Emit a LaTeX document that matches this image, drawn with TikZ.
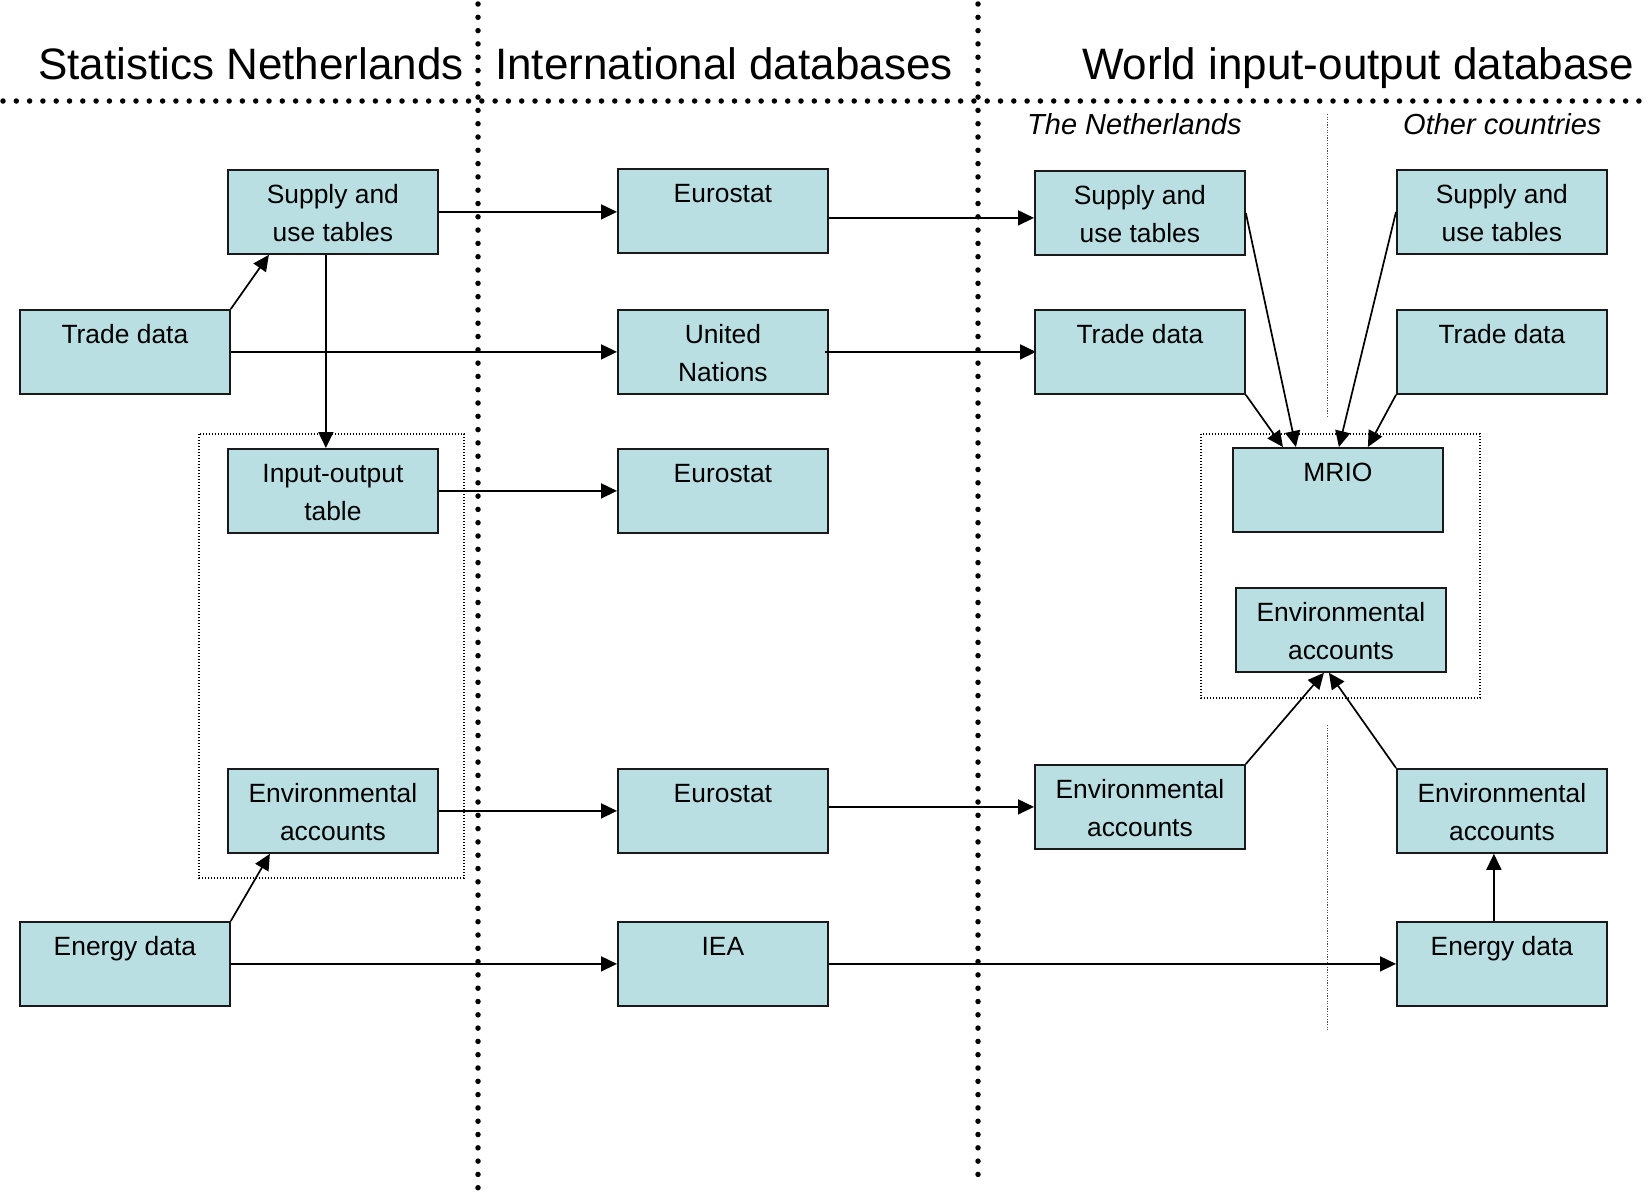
\documentclass[tikz,border=0pt]{standalone}
\usepackage{fontspec}
\setmainfont{Liberation Sans}
\usetikzlibrary{arrows.meta,calc}
\definecolor{boxfill}{RGB}{185,223,227}
\newcommand\bt[1]{\parbox[c][84pt][t]{210pt}{\centering\fontsize{26.4}{38}\selectfont\rule{0pt}{34pt}#1\par}}
\tikzset{
  bx/.style={draw=black!90, line width=1.8pt, fill=boxfill, inner sep=0pt, minimum width=210pt, minimum height=84pt, anchor=north west},
  conn/.style={line width=1.7pt, -{Triangle[length=16pt,width=15pt]}},
  bigdots/.style={line width=5.5pt, line cap=round, dash pattern=on 0pt off 13.3pt},
  grp/.style={line width=1.3pt, dash pattern=on 1.4pt off 1.6pt},
  sep/.style={line width=0.9pt, black!70, dash pattern=on 1.2pt off 1.4pt},
  head/.style={anchor=base west, inner sep=0pt, font=\fontsize{44}{50}\selectfont},
  subhead/.style={anchor=base west, inner sep=0pt, font=\fontsize{29}{34}\selectfont\itshape}
}
\begin{document}
\begin{tikzpicture}[x=1pt,y=-1pt]
\useasboundingbox (0,0) rectangle (1649,1203);

% separators
\draw[bigdots] (478,4) -- (478,1199);
\draw[bigdots] (978,4) -- (978,1186);
\draw[bigdots] (3,101) -- (1649,101);
\draw[sep] (1327,114) -- (1327,418);
\draw[sep] (1327,725) -- (1327,1031);

% headers
\node[head] (h1) at (38,79) {Statistics Netherlands};
\node[head] (h2) at (495,79) {International databases};
\node[head] (h3) at (1082,79) {World input-output database};
\node[subhead] (s1) at (1027,134) {The Netherlands};
\node[subhead] (s2) at (1403,134) {Other countries};

% group frames
\draw[grp] (199,434) rectangle (464,878);
\draw[grp] (1201,434) rectangle (1480,698);

% Statistics Netherlands
\node[bx] (snsut) at (227,169) {\bt{Supply and\\use tables}};
\node[bx] (sntrade) at (19,309) {\bt{Trade data}};
\node[bx] (snio) at (227,448) {\bt{Input-output\\table}};
\node[bx] (snenv) at (227,768) {\bt{Environmental\\accounts}};
\node[bx] (snenergy) at (19,921) {\bt{Energy data}};

% International databases
\node[bx] (eu1) at (617,168) {\bt{Eurostat}};
\node[bx] (un) at (617,309) {\bt{United\\Nations}};
\node[bx] (eu2) at (617,448) {\bt{Eurostat}};
\node[bx] (eu3) at (617,768) {\bt{Eurostat}};
\node[bx] (iea) at (617,921) {\bt{IEA}};

% WIOD - Netherlands
\node[bx] (nlsut) at (1034,170) {\bt{Supply and\\use tables}};
\node[bx] (nltrade) at (1034,309) {\bt{Trade data}};
\node[bx] (nlenv) at (1034,764) {\bt{Environmental\\accounts}};

% WIOD - combined
\node[bx] (mrio) at (1232,447) {\bt{MRIO}};
\node[bx] (wenv) at (1235,587) {\bt{Environmental\\accounts}};

% WIOD - other countries
\node[bx] (ocsut) at (1396,169) {\bt{Supply and\\use tables}};
\node[bx] (octrade) at (1396,309) {\bt{Trade data}};
\node[bx] (ocenv) at (1396,768) {\bt{Environmental\\accounts}};
\node[bx] (ocenergy) at (1396,921) {\bt{Energy data}};

% connectors
\draw[conn] (snsut.east) -- (snsut.east -| eu1.west);
\draw[conn] (sntrade.north east) -- ($(snsut.south)+(-64,0)$);
\draw[conn] (sntrade.east) -- (sntrade.east -| un.west);
\draw[conn] ($(snsut.south)+(-7,0)$) -- ($(snio.north)+(-7,0)$);
\draw[conn] (snio.east) -- (snio.east -| eu2.west);
\draw[conn] (snenv.east) -- (snenv.east -| eu3.west);
\draw[conn] (snenergy.north east) -- ($(snenv.south)+(-63,0)$);
\draw[conn] (snenergy.east) -- (snenergy.east -| iea.west);

\coordinate (c1) at ($(nlsut.west)+(0,5)$);
\draw[conn] (c1 -| eu1.east) -- (c1);
\draw[conn] ($(un.east)+(-4,0)$) -- ($(nltrade.west)+(2,0)$);
\draw[conn] (nlenv.west -| eu3.east) -- (nlenv.west);
\draw[conn] (iea.east) -- (iea.east -| ocenergy.west);

\draw[conn] (nlsut.east) -- ($(mrio.north)+(-42,0)$);
\draw[conn] (nltrade.south east) -- ($(mrio.north)+(-55,0)$);
\draw[conn] (ocsut.west) -- ($(mrio.north)+(1,0)$);
\draw[conn] (octrade.south west) -- ($(mrio.north)+(30,0)$);

\draw[conn] (nlenv.north east) -- ($(wenv.south)+(-17,0)$);
\draw[conn] (ocenv.north west) -- ($(wenv.south)+(-12,0)$);
\draw[conn] ($(ocenergy.north)+(-8,0)$) -- ($(ocenv.south)+(-8,0)$);
\end{tikzpicture}
\end{document}
